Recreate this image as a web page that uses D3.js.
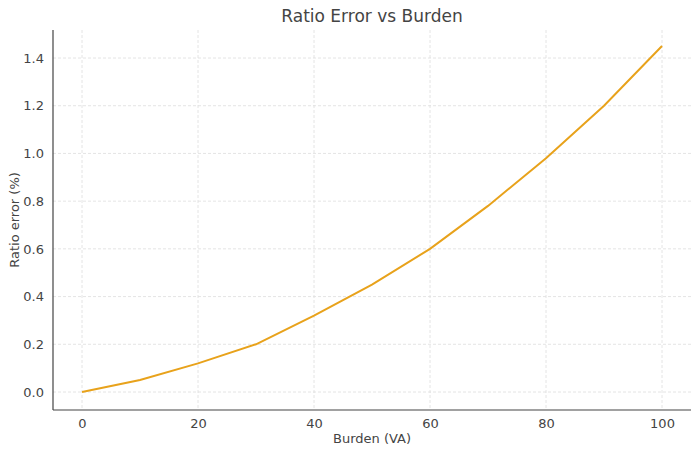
<!DOCTYPE html>
<html><head><meta charset="utf-8">
<script src="https://cdn.jsdelivr.net/npm/d3@7"></script>
<style>body{margin:0;background:#fff}text{font-family:"DejaVu Sans",sans-serif}</style>
</head><body><div id="container"></div>
<script>
var burden = [0, 10, 20, 30, 40, 50, 60, 70, 80, 90, 100];
var ratioError = [0, 0.05, 0.12, 0.2, 0.32, 0.45, 0.6, 0.78, 0.98, 1.2, 1.45];
var xTicks = [0, 20, 40, 60, 80, 100];
var yTicks = [0, 0.2, 0.4, 0.6, 0.8, 1.0, 1.2, 1.4];

var w = 700, h = 454;
var mLeft = 53, mRight = 691, mTop = 30, mBottom = 410;

var x = d3.scaleLinear().domain([-5, 105]).range([mLeft, mRight]);
var y = d3.scaleLinear().domain([0, 1.4]).range([392, 58]);

var svg = d3.select("#container").append("svg").attr("width", w).attr("height", h);

// grid
svg.selectAll(".gx").data(xTicks).enter().append("line")
  .attr("x1", d => x(d)).attr("x2", d => x(d)).attr("y1", mTop).attr("y2", mBottom)
  .attr("stroke", "#ddd").attr("stroke-dasharray", "3,2").attr("stroke-width", 0.8);
svg.selectAll(".gy").data(yTicks).enter().append("line")
  .attr("y1", d => y(d)).attr("y2", d => y(d)).attr("x1", mLeft).attr("x2", mRight)
  .attr("stroke", "#ddd").attr("stroke-dasharray", "3,2").attr("stroke-width", 0.8);

// axes
var xa = svg.append("g").attr("transform", "translate(0," + mBottom + ")")
  .call(d3.axisBottom(x).tickValues(xTicks).tickSize(0).tickPadding(9).tickFormat(d3.format("d")));
var ya = svg.append("g").attr("transform", "translate(" + mLeft + ",0)")
  .call(d3.axisLeft(y).tickValues(yTicks).tickSize(0).tickPadding(9).tickFormat(d3.format(".1f")));
[xa, ya].forEach(function(a) {
  a.attr("font-size", null).attr("font-family", null);
  a.select(".domain").attr("stroke", "#444").attr("stroke-width", 1.2);
  a.selectAll("text").style("font-size", "13px").attr("fill", "#444");
});
xa.select(".domain").attr("d", "M" + mLeft + ",0H" + mRight);
ya.select(".domain").attr("d", "M0," + mTop + "V" + mBottom);

// line
svg.append("path").datum(burden.map((b, i) => [b, ratioError[i]]))
  .attr("fill", "none").attr("stroke", "#e8a21b").attr("stroke-width", 2)
  .attr("d", d3.line().x(d => x(d[0])).y(d => y(d[1])));

// titles
svg.append("text").attr("x", (mLeft + mRight) / 2).attr("y", 22).attr("text-anchor", "middle")
  .style("font-size", "17px").attr("fill", "#444").text("Ratio Error vs Burden");
svg.append("text").attr("x", (mLeft + mRight) / 2).attr("y", 443).attr("text-anchor", "middle")
  .style("font-size", "13px").attr("fill", "#444").text("Burden (VA)");
svg.append("text").attr("transform", "translate(19," + (mTop + mBottom) / 2 + ") rotate(-90)")
  .attr("text-anchor", "middle").style("font-size", "13px").attr("fill", "#444").text("Ratio error (%)");
</script></body></html>
